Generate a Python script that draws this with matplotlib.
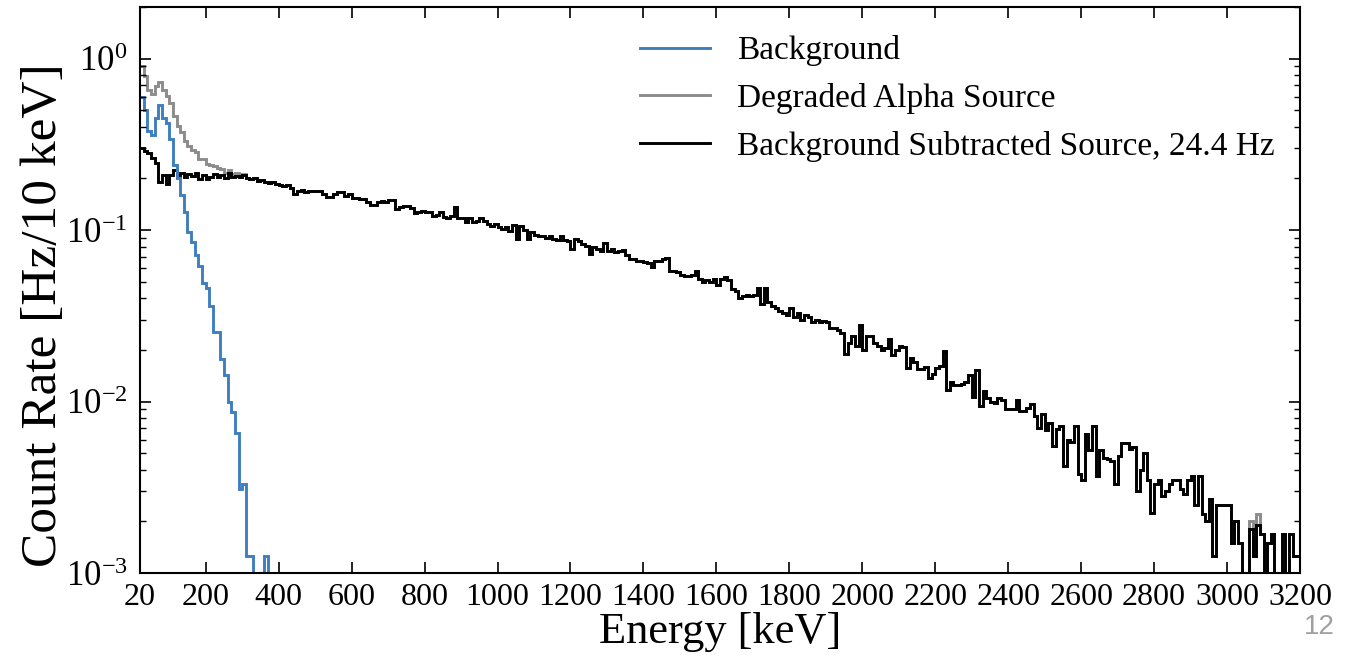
import numpy as np
import matplotlib.pyplot as plt
from matplotlib.lines import Line2D

plt.rcParams.update({
    "font.family": "Liberation Serif",
    "mathtext.fontset": "stix",
    "xtick.direction": "in",
    "ytick.direction": "in",
    "xtick.top": True,
    "ytick.right": True,
})

# 10 keV bins, 20 -> 3200 keV
edges = np.arange(20, 3201, 10)

# background-subtracted source rate [Hz/10 keV], one row per 100 keV
subtracted = [
    0.30, 0.29, 0.28, 0.265, 0.245, 0.19, 0.21, 0.185, 0.21, 0.225,
    0.205, 0.215, 0.205, 0.213, 0.208, 0.215, 0.198, 0.21, 0.198, 0.205,
    0.212, 0.205, 0.21, 0.202, 0.215, 0.205, 0.208, 0.205, 0.21, 0.20,
    0.198, 0.20, 0.193, 0.195, 0.19, 0.188, 0.19, 0.186, 0.183, 0.18,
    0.183, 0.175, 0.162, 0.170, 0.172, 0.166, 0.168, 0.170, 0.170, 0.169,
    0.162, 0.157, 0.157, 0.162, 0.166, 0.166, 0.158, 0.162, 0.153, 0.154,
    0.152, 0.152, 0.146, 0.141, 0.140, 0.145, 0.148, 0.146, 0.149, 0.149,
    0.133, 0.137, 0.138, 0.139, 0.134, 0.126, 0.127, 0.129, 0.128, 0.127,
    0.121, 0.123, 0.127, 0.120, 0.117, 0.121, 0.136, 0.118, 0.117, 0.112,
    0.118, 0.112, 0.113, 0.118, 0.113, 0.109, 0.106, 0.108, 0.104, 0.101,
    0.104, 0.099, 0.107, 0.089, 0.105, 0.100, 0.089, 0.098, 0.094, 0.093,
    0.093, 0.090, 0.093, 0.089, 0.087, 0.093, 0.088, 0.086, 0.078, 0.089,
    0.086, 0.083, 0.081, 0.073, 0.080, 0.078, 0.076, 0.084, 0.076, 0.078,
    0.075, 0.076, 0.077, 0.072, 0.068, 0.068, 0.066, 0.066, 0.065, 0.064,
    0.061, 0.066, 0.066, 0.068, 0.069, 0.058, 0.058, 0.057, 0.055, 0.054,
    0.054, 0.055, 0.058, 0.052, 0.050, 0.051, 0.050, 0.052, 0.048, 0.052,
    0.053, 0.051, 0.0456, 0.044, 0.040, 0.041, 0.042, 0.041, 0.042, 0.046,
    0.037, 0.046, 0.038, 0.036, 0.035, 0.0337, 0.033, 0.032, 0.035, 0.031,
    0.033, 0.030, 0.032, 0.031, 0.029, 0.030, 0.029, 0.0295, 0.029, 0.027,
    0.027, 0.026, 0.025, 0.019, 0.022, 0.024, 0.021, 0.028, 0.020, 0.024,
    0.024, 0.022, 0.021, 0.020, 0.0205, 0.0232, 0.0186, 0.020, 0.021, 0.0208,
    0.0157, 0.018, 0.017, 0.0155, 0.0155, 0.016, 0.0137, 0.0145, 0.0157, 0.0162,
    0.0197, 0.0117, 0.0130, 0.0125, 0.0125, 0.0126, 0.013, 0.0142, 0.0107, 0.0152,
    0.0094, 0.0115, 0.0105, 0.0100, 0.0098, 0.0105, 0.0102, 0.0090, 0.0090, 0.0090,
    0.0102, 0.0088, 0.0088, 0.0092, 0.0097, 0.0082, 0.0070, 0.0085, 0.0068, 0.0075,
    0.0055, 0.0069, 0.0072, 0.0042, 0.0060, 0.0058, 0.0072, 0.0038, 0.0035, 0.0065,
    0.0052, 0.0072, 0.0037, 0.0052, 0.0047, 0.0046, 0.0045, 0.0033, 0.0048, 0.0057,
    0.0057, 0.0053, 0.0054, 0.0030, 0.0040, 0.0050, 0.0035, 0.00225, 0.0033, 0.0035,
    0.0028, 0.0030, 0.0033, 0.0035, 0.0035, 0.0031, 0.0029, 0.0035, 0.0037, 0.0025,
    0.0037, 0.0022, 0.0020, 0.0027, 0.00125, 0.0025, 0.0025, 0.0025, 0.0025, 0.0015,
    0.0020, 0.0015, 0.0, 0.0, 0.0018, 0.00125, 0.0019, 0.0017, 0.0, 0.0015,
    0.0017, 0.0, 0.0, 0.0017, 0.0, 0.0017, 0.00125, 0.00125,
]

# background rate, 20 -> 370 keV (zero above, apart from two tail bins)
background_low = [
    0.60, 0.50, 0.38, 0.36, 0.45, 0.54, 0.45, 0.42, 0.34, 0.24,
    0.20, 0.16, 0.127, 0.098, 0.085, 0.072, 0.062, 0.049, 0.046, 0.036,
    0.0254, 0.0254, 0.0176, 0.0142, 0.0099, 0.0087, 0.0066, 0.0031, 0.0033, 0.00126,
    0.00126, 0.0, 0.0, 0.0, 0.00126,
]
background_tail = {3060: 0.0002, 3080: 0.0003}

subtracted = np.array(subtracted)
background = np.zeros(len(subtracted))
background[:len(background_low)] = background_low
for e, v in background_tail.items():
    background[(e - 20) // 10] = v
source = subtracted + background  # degraded alpha source = bkg-subtracted + bkg

BLUE = "#3f7fbf"
GREY = "#8c8c8c"

fig = plt.figure(figsize=(13.65, 6.62), dpi=100)
ax = fig.add_axes([0.1026, 0.1344, 0.8498, 0.855])

lw = 2.1
ax.stairs(source, edges, baseline=None, color=GREY, lw=lw)
ax.stairs(subtracted, edges, baseline=None, color="black", lw=lw)
ax.stairs(background, edges, baseline=None, color=BLUE, lw=lw)

ax.set_yscale("log")
ax.set_xlim(20, 3200)
ax.set_ylim(1e-3, 2)
ax.set_xticks([20] + list(range(200, 3201, 200)))
ax.tick_params(axis="both", which="major", length=8, width=1.2)
ax.tick_params(axis="x", which="major", labelsize=23, pad=7)
ax.tick_params(axis="y", which="major", labelsize=25, pad=9)
ax.tick_params(axis="both", which="minor", length=4, width=1)
for s in ax.spines.values():
    s.set_linewidth(1.5)

ax.set_xlabel("Energy [keV]", fontsize=32, labelpad=0)
ax.set_ylabel("Count Rate [Hz/10 keV]", fontsize=37)
ax.yaxis.set_label_coords(-0.063, 0.455)

handles = [Line2D([], [], color=BLUE, lw=lw),
           Line2D([], [], color=GREY, lw=lw),
           Line2D([], [], color="black", lw=lw)]
labels = ["Background", "Degraded Alpha Source",
          "Background Subtracted Source, 24.4 Hz"]
ax.legend(handles, labels, loc="upper left", bbox_to_anchor=(0.431, 0.95),
          frameon=False, fontsize=24, handlelength=2.1, handletextpad=0.8,
          labelspacing=0.5, borderpad=0, borderaxespad=0)

fig.text(0.978, 0.033, "12", color="#a0a0a0", fontsize=20,
         family="Liberation Sans", ha="right", va="bottom")

fig.savefig("out.png", dpi=100, facecolor="white")
